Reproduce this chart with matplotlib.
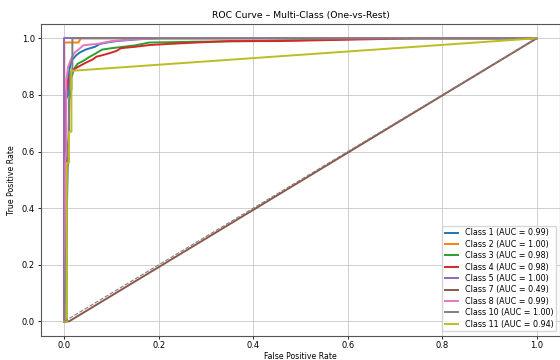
import matplotlib
matplotlib.use("Agg")
import matplotlib.pyplot as plt

# ROC points per class
class_names = ["Class 1", "Class 2", "Class 3", "Class 4", "Class 5",
               "Class 7", "Class 8", "Class 10", "Class 11"]
auc_values = [0.99, 1.00, 0.98, 0.98, 1.00, 0.49, 0.99, 1.00, 0.94]

fpr_c1 = [0, 0.002, 0.002, 0.008, 0.008, 0.012, 0.015, 0.02, 0.025, 0.033, 0.045,
          0.055, 0.065, 0.075, 0.09, 0.11, 0.13, 0.16, 0.2, 1.0]
tpr_c1 = [0, 0, 0.78, 0.8, 0.86, 0.9, 0.92, 0.93, 0.94, 0.95, 0.96,
          0.965, 0.97, 0.98, 0.985, 0.99, 0.993, 0.997, 1.0, 1.0]

fpr_c2 = [0, 0, 0.03, 0.035, 1.0]
tpr_c2 = [0, 0.985, 0.985, 1.0, 1.0]

fpr_c3 = [0, 0.005, 0.005, 0.01, 0.01, 0.015, 0.015, 0.02, 0.028, 0.04, 0.054, 0.065,
          0.08, 0.1, 0.125, 0.15, 0.18, 0.22, 0.28, 0.4, 0.55, 0.7, 1.0]
tpr_c3 = [0, 0, 0.6, 0.65, 0.78, 0.82, 0.86, 0.89, 0.91, 0.92, 0.935, 0.945,
          0.96, 0.965, 0.97, 0.975, 0.985, 0.986, 0.988, 0.99, 0.995, 1.0, 1.0]

fpr_c4 = [0, 0.003, 0.003, 0.008, 0.012, 0.02, 0.03, 0.047, 0.06, 0.068, 0.08, 0.095,
          0.11, 0.12, 0.15, 0.18, 0.22, 0.28, 0.35, 0.45, 0.6, 0.75, 1.0]
tpr_c4 = [0, 0, 0.8, 0.85, 0.87, 0.89, 0.9, 0.915, 0.925, 0.935, 0.94, 0.947,
          0.955, 0.965, 0.97, 0.976, 0.98, 0.985, 0.99, 0.99, 0.995, 1.0, 1.0]

fpr_c5 = [0, 0, 1.0]
tpr_c5 = [0, 1.0, 1.0]

fpr_c7 = [0, 0.01, 1.0]
tpr_c7 = [0, 0, 1.0]

fpr_c8 = [0, 0.002, 0.002, 0.004, 0.004, 0.008, 0.015, 0.022, 0.03, 0.04, 0.055,
          0.07, 0.1, 0.14, 0.2, 1.0]
tpr_c8 = [0, 0, 0.56, 0.6, 0.85, 0.9, 0.93, 0.95, 0.96, 0.975, 0.978,
          0.98, 0.99, 0.995, 1.0, 1.0]

fpr_c10 = [0, 0.012, 0.017, 0.017, 1.0]
tpr_c10 = [0, 0.88, 0.88, 1.0, 1.0]

fpr_c11 = [0, 0.005, 0.005, 0.01, 0.01, 0.015, 0.015, 1.0]
tpr_c11 = [0, 0, 0.56, 0.56, 0.67, 0.67, 0.885, 1.0]

fprs = [fpr_c1, fpr_c2, fpr_c3, fpr_c4, fpr_c5, fpr_c7, fpr_c8, fpr_c10, fpr_c11]
tprs = [tpr_c1, tpr_c2, tpr_c3, tpr_c4, tpr_c5, tpr_c7, tpr_c8, tpr_c10, tpr_c11]

fig = plt.figure(figsize=(5.6, 3.6), dpi=100)
ax = fig.add_axes([0.0727, 0.068, 0.928, 0.865])

for name, auc, fpr, tpr in zip(class_names, auc_values, fprs, tprs):
    ax.plot(fpr, tpr, lw=1.4, label=f"{name} (AUC = {auc:.2f})")

ax.plot([0, 1], [0, 1], linestyle="--", color="gray", lw=0.8)

ax.set_title("ROC Curve – Multi-Class (One-vs-Rest)", fontsize=6.7, pad=4.5)
ax.set_xlabel("False Positive Rate", fontsize=5.6, labelpad=1)
ax.set_ylabel("True Positive Rate", fontsize=5.6, labelpad=4)
ax.tick_params(labelsize=6, length=2.3, width=0.6, pad=2)
ax.legend(loc="lower right", fontsize=5.8, handlelength=1.7, borderpad=0.35,
          labelspacing=0.3, framealpha=0.8)
ax.grid(True, color="#c8c8c8", lw=0.6)
for s in ax.spines.values():
    s.set_linewidth(0.8)
    s.set_color("#555555")

fig.savefig("out.png", dpi=100)
